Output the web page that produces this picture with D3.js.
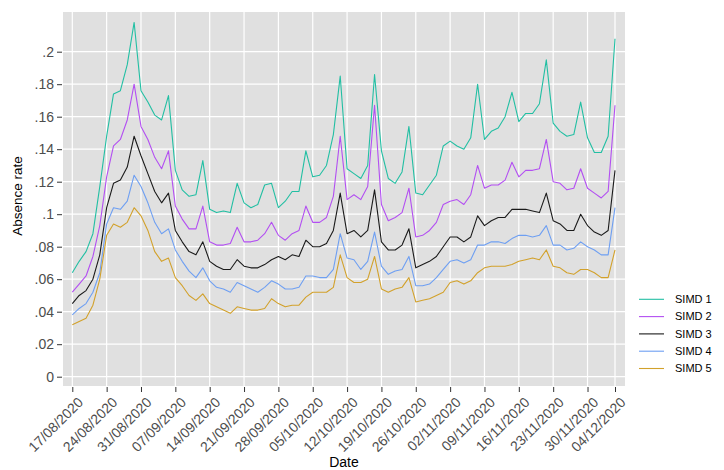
<!DOCTYPE html>
<html>
<head>
<meta charset="utf-8">
<script src="https://cdn.jsdelivr.net/npm/d3@7"></script>
<style>
    body { margin: 0; background: #fff; }
    svg { font-family: "Liberation Sans", Arial, sans-serif; display: block; }
    .tick text { fill: #4d4d4d; }
</style>
</head>
<body>
<svg id="chart" width="724" height="470"></svg>
<script>
const tickLabels = ["17/08/2020", "24/08/2020", "31/08/2020", "07/09/2020", "14/09/2020", "21/09/2020",
    "28/09/2020", "05/10/2020", "12/10/2020", "19/10/2020", "26/10/2020", "02/11/2020",
    "09/11/2020", "16/11/2020", "23/11/2020", "30/11/2020", "04/12/2020"];
const tickIndex = [0, 5, 10, 15, 20, 25, 30, 35, 40, 45, 50, 55, 60, 65, 70, 75, 79];

const seriesNames = ["SIMD 1", "SIMD 2", "SIMD 3", "SIMD 4", "SIMD 5"];
const seriesColors = ["#22bfa3", "#b34ff2", "#1a1a1a", "#6e9ff2", "#d2a12b"];

const simd1 = [.064,.071,.077,.088,.117,.148,.174,.176,.192,.218,
    .176,.169,.161,.158,.173,.127,.115,.111,.112,.133,
    .103,.101,.102,.101,.119,.107,.104,.106,.118,.119,
    .104,.108,.114,.114,.139,.123,.124,.130,.149,.185,
    .128,.125,.122,.130,.186,.139,.122,.119,.126,.154,
    .113,.112,.118,.124,.142,.145,.142,.140,.147,.180,
    .146,.151,.153,.160,.175,.157,.162,.162,.168,.195,
    .156,.151,.148,.149,.169,.147,.138,.138,.148,.208];
const simd2 = [.052,.057,.062,.074,.093,.123,.142,.146,.158,.180,
    .154,.146,.135,.128,.139,.105,.097,.091,.091,.105,
    .083,.081,.081,.082,.092,.083,.083,.084,.088,.095,
    .087,.084,.088,.090,.105,.095,.095,.098,.111,.148,
    .109,.112,.109,.117,.167,.106,.096,.098,.101,.116,
    .086,.087,.090,.095,.106,.108,.109,.106,.112,.130,
    .116,.118,.118,.121,.132,.123,.127,.127,.128,.146,
    .120,.119,.115,.116,.128,.116,.113,.110,.114,.167];
const simd3 = [.045,.050,.053,.060,.075,.104,.119,.121,.129,.148,
    .136,.125,.114,.107,.113,.090,.083,.077,.075,.083,
    .071,.068,.066,.066,.072,.068,.067,.067,.069,.072,
    .074,.072,.075,.074,.084,.080,.080,.082,.090,.113,
    .088,.090,.086,.090,.115,.083,.078,.078,.081,.091,
    .067,.069,.071,.074,.080,.086,.086,.083,.086,.099,
    .093,.096,.098,.098,.103,.103,.103,.102,.101,.113,
    .096,.094,.090,.090,.100,.093,.089,.087,.090,.127];
const simd4 = [.038,.042,.045,.052,.064,.094,.104,.103,.108,.124,
    .117,.107,.095,.088,.091,.078,.071,.065,.061,.067,
    .059,.055,.054,.052,.058,.056,.054,.052,.055,.059,
    .057,.054,.054,.055,.062,.062,.061,.061,.066,.088,
    .073,.072,.066,.071,.089,.068,.063,.065,.066,.074,
    .056,.056,.057,.061,.066,.071,.072,.070,.072,.081,
    .081,.083,.083,.082,.085,.087,.087,.086,.087,.093,
    .081,.081,.078,.079,.083,.080,.078,.075,.075,.104];
const simd5 = [.032,.034,.036,.044,.060,.087,.094,.092,.095,.104,
    .099,.090,.077,.071,.073,.061,.056,.050,.047,.051,
    .045,.043,.041,.039,.043,.042,.041,.041,.042,.048,
    .045,.043,.044,.044,.049,.052,.052,.052,.055,.075,
    .061,.058,.058,.060,.074,.054,.052,.054,.055,.061,
    .046,.047,.048,.050,.052,.058,.059,.057,.059,.064,
    .067,.068,.068,.068,.069,.071,.072,.073,.072,.078,
    .068,.067,.064,.063,.066,.066,.064,.061,.061,.078];
const yTicks = [0, .02, .04, .06, .08, .1, .12, .14, .16, .18, .2];

const allSeries = [simd1, simd2, simd3, simd4, simd5].map((values, k) => ({
    name: seriesNames[k],
    color: seriesColors[k],
    values
}));

const svg = d3.select("#chart");
const panel = { left: 63, top: 12, right: 625, bottom: 386 };

// index scale: school days only, so weekends take no room
const xScale = d3.scaleLinear()
    .domain([0, 79])
    .range([72.3, 615]);

const yScale = d3.scaleLinear()
    .domain([0, .2])
    .range([376.7, 51.7]);

svg.append('rect')
    .attr('x', panel.left)
    .attr('y', panel.top)
    .attr('width', panel.right - panel.left)
    .attr('height', panel.bottom - panel.top)
    .attr('fill', '#e0e0e0');

const fmt = d => d === 0 ? "0" : d3.format(".2~f")(d).replace(/^0/, "");

const yAxis = d3.axisLeft(yScale)
    .tickValues(yTicks)
    .tickSize(5)
    .tickPadding(3)
    .tickFormat(fmt);

const yAxisG = svg.append('g')
    .attr('transform', `translate(${panel.left - 1},0)`)
    .call(yAxis);
yAxisG.select('.domain').remove();
yAxisG.selectAll('.tick line').attr('stroke', '#333');
yAxisG.selectAll('.tick text').attr('font-size', 14);

svg.append('g').selectAll('line').data(yTicks)
    .enter()
    .append('line')
    .attr('x1', panel.left)
    .attr('x2', panel.right)
    .attr('y1', d => yScale(d))
    .attr('y2', d => yScale(d))
    .attr('stroke', '#fff')
    .attr('stroke-width', 1.2);

svg.append('g').selectAll('line').data(tickIndex)
    .enter()
    .append('line')
    .attr('x1', d => xScale(d))
    .attr('x2', d => xScale(d))
    .attr('y1', panel.top)
    .attr('y2', panel.bottom)
    .attr('stroke', '#fff')
    .attr('stroke-width', 1.2);

const xAxis = d3.axisBottom(xScale)
    .tickValues(tickIndex)
    .tickSize(5)
    .tickPadding(3)
    .tickFormat((d, i) => tickLabels[i]);

const xAxisG = svg.append('g')
    .attr('transform', `translate(0,${panel.bottom + 1})`)
    .call(xAxis);
xAxisG.select('.domain').remove();
xAxisG.selectAll('.tick line').attr('stroke', '#333');
xAxisG.selectAll('.tick text')
    .attr('font-size', 14)
    .attr('text-anchor', 'end')
    .attr('dy', '0.35em')
    .attr('transform', 'translate(2,7) rotate(-45)');

const line = d3.line()
    .x((d, i) => xScale(i))
    .y(d => yScale(d));

svg.append('g').selectAll('path').data(allSeries)
    .enter()
    .append('path')
    .attr('d', d => line(d.values))
    .attr('fill', 'none')
    .attr('stroke', d => d.color)
    .attr('stroke-width', 1.1)
    .attr('stroke-linejoin', 'round');

svg.append('text')
    .attr('x', (panel.left + panel.right) / 2)
    .attr('y', 467)
    .attr('text-anchor', 'middle')
    .attr('font-size', 14)
    .text("Date");

svg.append('text')
    .attr('transform', `translate(22,196) rotate(-90)`)
    .attr('text-anchor', 'middle')
    .attr('font-size', 13.5)
    .text("Absence rate");

const legend = svg.append('g').selectAll('g').data(allSeries)
    .enter()
    .append('g')
    .attr('transform', (d, i) => `translate(639,${299.3 + i * 17.3})`);

legend.append('line')
    .attr('x1', 0)
    .attr('x2', 25)
    .attr('stroke', d => d.color)
    .attr('stroke-width', 1.1);

legend.append('text')
    .attr('x', 36)
    .attr('dy', '0.35em')
    .attr('font-size', 11)
    .text(d => d.name);
</script>
</body>
</html>
